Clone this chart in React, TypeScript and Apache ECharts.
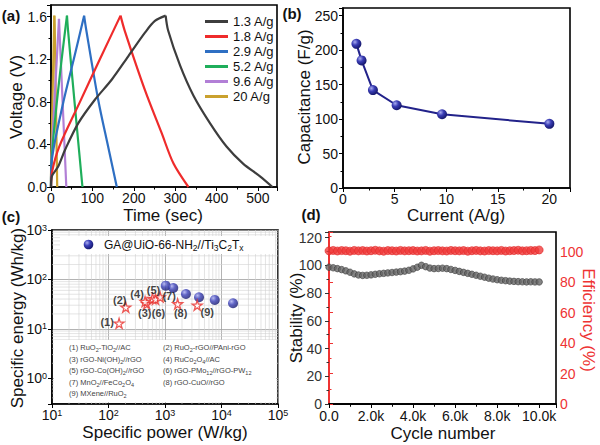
import React, { useEffect, useRef } from "react";
import * as echarts from "echarts";

const FONT = 'Arial, "Liberation Sans", Helvetica, sans-serif';

// ---------- (a) galvanostatic charge/discharge: [time (s), voltage (V)]
const gcdNames = ["1.3 A/g", "1.8 A/g", "2.9 A/g", "5.2 A/g", "9.6 A/g", "20 A/g"];
const gcdColors = ["#3d3d3d", "#ef2b2b", "#2e6fc3", "#1fae5b", "#b27fd6", "#caa12e"];
const gcd_1_3 = [[0, 0], [2, 0.1], [17, 0.19], [34, 0.35], [66, 0.6], [106, 0.82], [147, 1.01], [187, 1.23], [227, 1.45], [251, 1.56], [277, 1.61], [283, 1.47], [312, 1.14], [344, 0.86], [384, 0.6], [424, 0.38], [464, 0.22], [505, 0.1], [535, 0]];
const gcd_1_8 = [[0, 0], [3, 0.15], [20, 0.38], [70, 0.8], [118, 1.2], [168, 1.61], [178, 1.47], [227, 0.91], [267, 0.51], [296, 0.22], [332, 0]];
const gcd_2_9 = [[0, 0], [2, 0.25], [30, 0.8], [55, 1.2], [80, 1.61], [85, 1.48], [114, 0.82], [138, 0.38], [159, 0]];
const gcd_5_2 = [[0, 0], [1, 0.22], [38.6, 1.61], [41, 1.48], [58, 0.75], [76, 0]];
const gcd_9_6 = [[0, 0], [1, 0.25], [19.3, 1.58], [20.5, 1.47], [37, 0]];
const gcd_20 = [[0, 0], [0.5, 0.25], [8, 1.61], [9, 1.5], [15, 0]];
const gcdCurves = [gcd_1_3, gcd_1_8, gcd_2_9, gcd_5_2, gcd_9_6, gcd_20];

// ---------- (b) rate capability
const rateCurrents = [1.3, 1.8, 2.9, 5.2, 9.6, 20];
const rateCapacitance = [209, 185, 142, 120, 107, 93];

// ---------- (c) Ragone plot
const thisWorkPower = [1030, 1400, 2350, 4000, 7600, 16000];
const thisWorkEnergy = [74.6, 67, 50.7, 43.5, 38.4, 32.9];
const refLabels = ["(1)", "(2)", "(3)", "(4)", "(5)", "(6)", "(7)", "(8)", "(9)"];
const refPower = [154, 202, 475, 444, 600, 680, 820, 1675, 3715];
const refEnergy = [12.9, 27.3, 31.9, 35.5, 41, 39.5, 44, 31.9, 30];
const refLabelOffsets = [[-12, -1], [-6, -7], [-2, 9], [-8, -8], [1, -9], [3, 14], [9, -1], [3, 9], [10, 7]];
const refNames = [
  "(1) RuO{s|2}-TiO{s|2}//AC",
  "(2) RuO{s|2}-rGO//PAni-rGO",
  "(3) rGO-Ni(OH){s|2}//rGO",
  "(4) RuCo{s|2}O{s|4}//AC",
  "(5) rGO-Co(OH){s|2}//rGO",
  "(6) rGO-PMo{s|12}//rGO-PW{s|12}",
  "(7) MnO{s|2}//FeCo{s|2}O{s|4}",
  "(8) rGO-CuO//rGO",
  "(9) MXene//RuO{s|2}",
];
const minorPower = [20, 30, 40, 50, 60, 70, 80, 90, 200, 300, 400, 500, 600, 700, 800, 900, 2000, 3000, 4000, 5000, 6000, 7000, 8000, 9000, 20000, 30000, 40000, 50000, 60000, 70000, 80000, 90000];
const minorEnergy = [0.4, 0.5, 0.6, 0.7, 0.8, 0.9, 2, 3, 4, 5, 6, 7, 8, 9, 20, 30, 40, 50, 60, 70, 80, 90, 200, 300, 400, 500, 600, 700, 800, 900];

// ---------- (d) cycling stability
const cycles = [0, 200, 400, 600, 800, 1000, 1200, 1400, 1600, 1800, 2000, 2200, 2400, 2600, 2800, 3000, 3200, 3400, 3600, 3800, 4000, 4200, 4400, 4600, 4800, 5000, 5200, 5400, 5600, 5800, 6000, 6200, 6400, 6600, 6800, 7000, 7200, 7400, 7600, 7800, 8000, 8200, 8400, 8600, 8800, 9000, 9200, 9400, 9600, 9800, 10000];
const stability = [98.6, 98.2, 97.6, 96.9, 96.0, 95.0, 93.8, 93.0, 92.7, 92.8, 93.1, 93.5, 93.9, 94.2, 94.5, 94.8, 95.1, 95.4, 95.8, 96.4, 97.4, 98.6, 100.0, 99.0, 98.0, 97.6, 97.7, 97.9, 97.6, 97.0, 96.3, 95.6, 94.9, 94.2, 93.5, 92.8, 92.1, 91.4, 90.7, 90.1, 89.6, 89.2, 88.9, 88.6, 88.4, 88.2, 88.1, 88.0, 88.1, 88.0, 88.0];
const efficiency = [100.6, 100.9, 100.5, 100.8, 100.7, 100.4, 100.9, 100.6, 100.8, 100.5, 100.7, 101.0, 100.6, 100.4, 100.8, 100.7, 100.5, 100.9, 100.6, 100.7, 100.8, 100.5, 100.6, 100.9, 100.4, 100.7, 100.8, 100.6, 100.5, 100.9, 100.7, 100.6, 100.8, 100.4, 100.7, 100.9, 100.6, 100.5, 100.8, 100.7, 100.6, 100.9, 100.5, 100.7, 100.8, 101.0, 100.6, 100.7, 100.9, 100.8, 101.2];

const STAR = "path://M50,0 L61,35 L98,35 L68,57 L79,91 L50,70 L21,91 L32,57 L2,35 L39,35 Z";

function ball(light: string, mid: string, dark: string) {
  return new echarts.graphic.RadialGradient(0.35, 0.32, 0.7, [
    { offset: 0, color: light },
    { offset: 0.45, color: mid },
    { offset: 1, color: dark },
  ]);
}

const axisLabelBase = { fontSize: 14, lineHeight: 14, color: "#111", fontFamily: FONT, showMaxLabel: false };
const blackLine = { lineStyle: { color: "#000", width: 1.6 } };

export default function App() {
  const ref = useRef<HTMLDivElement>(null);
  useEffect(() => {
    if (!ref.current) return;
    const chart = echarts.init(ref.current, undefined, { renderer: "svg" });

    const gcdSeries: any[] = [];
    gcdCurves.forEach((curve, i) => {
      let pk = 0;
      curve.forEach((p, j) => { if (p[1] > curve[pk][1]) pk = j; });
      const parts = [curve.slice(0, pk + 1), curve.slice(pk)];
      parts.forEach((part) => {
        gcdSeries.push({
          type: "line", name: gcdNames[i], xAxisIndex: 0, yAxisIndex: 0,
          data: part, showSymbol: false, smooth: 0.3,
          color: gcdColors[i],
          lineStyle: { color: gcdColors[i], width: 2.2 },
          itemStyle: { color: gcdColors[i] },
          z: 10 - i,
        });
      });
    });

    const txt = (text: string, x: number, y: number, opts: any = {}) => ({
      type: "text", x, y, rotation: opts.rotation || 0, z: 50,
      style: {
        text, fontSize: opts.fontSize || 17, fontFamily: FONT, fontWeight: opts.fontWeight || "normal",
        fill: opts.fill || "#111", align: opts.align || "center", verticalAlign: "middle",
        rich: opts.rich, lineHeight: opts.lineHeight,
      },
    });

    const listRich = { s: { fontSize: 5.5, lineHeight: 9, verticalAlign: "bottom", fill: "#444", fontFamily: FONT } };
    const listGraphics = refNames.map((t, i) =>
      txt(t, i % 2 === 0 ? 69 : 163, 347.7 + Math.floor(i / 2) * 11.5, { fontSize: 7.5, fill: "#444", align: "left", rich: listRich, lineHeight: 11 })
    );

    const logFmt = (v: number) => {
      const l = Math.log10(v);
      const r = Math.round(l);
      if (Math.abs(l - r) > 1e-6) return "";
      return "10{sup|" + r + "}";
    };
    const supRich = { sup: { fontSize: 9, lineHeight: 8, verticalAlign: "top", color: "#111", fontFamily: FONT } };

    const option: any = {
      animation: false,
      textStyle: { fontFamily: FONT },
      grid: [
        { left: 51, top: 5, width: 226, height: 182, show: true, borderColor: "#000", borderWidth: 1.6, backgroundColor: "transparent" },
        { left: 343, top: 8, width: 227, height: 180, show: true, borderColor: "#000", borderWidth: 1.6, backgroundColor: "transparent" },
        { left: 52, top: 230, width: 226, height: 174, show: true, borderColor: "#000", borderWidth: 1.6, backgroundColor: "transparent" },
        { left: 329, top: 232, width: 227, height: 172, show: true, borderColor: "#000", borderWidth: 1.6, backgroundColor: "transparent" },
      ],
      legend: {
        data: gcdNames, orient: "vertical", left: 205, top: 14, padding: 0, itemGap: 0,
        itemWidth: 23, itemHeight: 3, icon: "rect",
        textStyle: { fontSize: 13, lineHeight: 15, color: "#111", fontFamily: FONT },
      },
      xAxis: [
        { type: "value", gridIndex: 0, min: 0, max: 546, interval: 100, axisLine: blackLine, axisTick: { show: true, length: 4, lineStyle: { color: "#000" } }, minorTick: { show: true, splitNumber: 2, length: 2.5, lineStyle: { color: "#000" } }, axisLabel: { ...axisLabelBase, margin: 4 }, splitLine: { show: false } },
        { type: "value", gridIndex: 1, min: 0, max: 22, interval: 5, axisLine: blackLine, axisTick: { show: true, length: 4, lineStyle: { color: "#000" } }, minorTick: { show: true, splitNumber: 2, length: 2.5, lineStyle: { color: "#000" } }, axisLabel: { ...axisLabelBase, margin: 4 }, splitLine: { show: false } },
        { type: "log", logBase: 10, gridIndex: 2, min: 10, max: 100000, axisLine: blackLine, axisTick: { show: true, length: 4, lineStyle: { color: "#000" } }, axisLabel: { ...axisLabelBase, showMaxLabel: true, margin: 4, lineHeight: 14, formatter: logFmt, rich: supRich }, splitLine: { show: true, lineStyle: { color: "#a0a0a0", width: 0.8 } } },
        { type: "value", gridIndex: 3, min: 0, max: 10800, interval: 2000, axisLine: blackLine, axisTick: { show: true, length: 4, lineStyle: { color: "#000" } }, minorTick: { show: true, splitNumber: 2, length: 2.5, lineStyle: { color: "#000" } }, axisLabel: { ...axisLabelBase, margin: 5, formatter: (v: number) => (v === 0 ? "0.0" : (v / 1000).toFixed(1) + "k") }, splitLine: { show: false } },
        { type: "value", gridIndex: 3, position: "top", min: 0, max: 10800, interval: 2000, axisLine: blackLine, axisTick: { show: true, inside: true, length: 4, lineStyle: { color: "#000" } }, minorTick: { show: true, splitNumber: 2, length: 2.5, lineStyle: { color: "#000" } }, axisLabel: { show: false }, splitLine: { show: false } },
      ],
      yAxis: [
        { type: "value", gridIndex: 0, min: 0, max: 1.71, interval: 0.4, axisLine: blackLine, axisTick: { show: true, length: 4, lineStyle: { color: "#000" } }, minorTick: { show: true, splitNumber: 2, length: 2.5, lineStyle: { color: "#000" } }, axisLabel: { ...axisLabelBase, margin: 4, formatter: (v: number) => v.toFixed(1) }, splitLine: { show: false } },
        { type: "value", gridIndex: 1, min: 0, max: 261, interval: 50, axisLine: blackLine, axisTick: { show: true, length: 4, lineStyle: { color: "#000" } }, minorTick: { show: true, splitNumber: 2, length: 2.5, lineStyle: { color: "#000" } }, axisLabel: { ...axisLabelBase, margin: 5 }, splitLine: { show: false } },
        { type: "log", logBase: 10, gridIndex: 2, min: 0.3, max: 1000, axisLine: blackLine, axisTick: { show: true, length: 4, lineStyle: { color: "#000" } }, axisLabel: { ...axisLabelBase, showMaxLabel: true, margin: 5, lineHeight: 14, formatter: logFmt, rich: supRich }, splitLine: { show: true, lineStyle: { color: "#a0a0a0", width: 0.8 } } },
        { type: "value", gridIndex: 3, min: 0, max: 124, interval: 20, axisLine: { lineStyle: { color: "#333", width: 1.8 } }, axisTick: { show: true, length: 4, lineStyle: { color: "#333" } }, minorTick: { show: true, splitNumber: 2, length: 2.5, lineStyle: { color: "#333" } }, axisLabel: { ...axisLabelBase, lineHeight: 10, color: "#333", margin: 7 }, splitLine: { show: false } },
        { type: "value", gridIndex: 3, position: "right", min: 0, max: 113, interval: 20, axisLine: { show: true, lineStyle: { color: "#ee3333", width: 2 } }, axisTick: { show: true, length: 4, lineStyle: { color: "#ee3333" } }, minorTick: { show: true, splitNumber: 2, length: 2.5, lineStyle: { color: "#ee3333" } }, axisLabel: { ...axisLabelBase, lineHeight: 10, color: "#ee3333", margin: 4 }, splitLine: { show: false } },
      ],
      series: [
        ...gcdSeries,
        {
          type: "line", xAxisIndex: 1, yAxisIndex: 1,
          data: rateCurrents.map((c, i) => [c, rateCapacitance[i]]),
          symbol: "circle", symbolSize: 10,
          lineStyle: { color: "#22228a", width: 2 },
          itemStyle: { color: ball("#a9acef", "#3a3db5", "#15176a") },
          z: 5,
        },
        {
          type: "custom", xAxisIndex: 2, yAxisIndex: 2, z: 1, silent: true,
          data: minorPower.map((v) => [v, 1]),
          renderItem: (params: any, api: any) => {
            const v = api.value(0);
            const p1 = api.coord([v, 1000]);
            const p2 = api.coord([v, 0.3]);
            return { type: "line", shape: { x1: p1[0], y1: p1[1], x2: p2[0], y2: p2[1] }, style: { stroke: "#d2d2d2", lineWidth: 0.6 } };
          },
        },
        {
          type: "custom", xAxisIndex: 2, yAxisIndex: 2, z: 1, silent: true,
          data: minorEnergy.map((v) => [100, v]), encode: { x: 0, y: 1 },
          renderItem: (params: any, api: any) => {
            const v = api.value(1);
            const p1 = api.coord([10, v]);
            const p2 = api.coord([100000, v]);
            return { type: "line", shape: { x1: p1[0], y1: p1[1], x2: p2[0], y2: p2[1] }, style: { stroke: "#d2d2d2", lineWidth: 0.6 } };
          },
        },
        {
          type: "scatter", xAxisIndex: 2, yAxisIndex: 2, z: 20,
          data: thisWorkPower.map((p, i) => [p, thisWorkEnergy[i]]),
          symbol: "circle", symbolSize: 10,
          itemStyle: { color: ball("#a9acef", "#3a3fb8", "#15186e") },
        },
        {
          type: "scatter", xAxisIndex: 2, yAxisIndex: 2, z: 20,
          data: refPower.map((p, i) => ({
            value: [p, refEnergy[i]],
            label: { show: true, position: "inside", offset: refLabelOffsets[i], formatter: refLabels[i], fontSize: 11, fontWeight: "bold", color: "#111", fontFamily: FONT },
          })),
          symbol: STAR, symbolSize: 10,
          itemStyle: { color: "#ffffff", borderColor: "#e8302c", borderWidth: 1.3 },
        },
        {
          type: "scatter", xAxisIndex: 3, yAxisIndex: 3, z: 10,
          data: cycles.map((c, i) => [c, stability[i]]),
          symbol: "circle", symbolSize: 6.5,
          itemStyle: { color: "#666666", borderColor: "#3a3a3a", borderWidth: 0.8 },
        },
        {
          type: "scatter", xAxisIndex: 3, yAxisIndex: 4, z: 10,
          data: cycles.map((c, i) => [c, efficiency[i]]),
          symbol: "circle", symbolSize: 8,
          itemStyle: { color: "#f03a3a", borderColor: "#e02525", borderWidth: 0.8 },
        },
      ],
      graphic: {
        elements: [
          { type: "rect", z: 5, shape: { x: 60, y: 236, width: 215, height: 18 }, style: { fill: "#fff" } },
          { type: "rect", z: 5, shape: { x: 54, y: 340, width: 222, height: 62 }, style: { fill: "#fff" } },
          { type: "circle", z: 30, shape: { cx: 88.5, cy: 244.5, r: 4.8 }, style: { fill: ball("#a9acef", "#3a3fb8", "#15186e") } },
          txt("GA@UiO-66-NH{b|2}//Ti{b|3}C{b|2}T{b|x}", 104, 244.5, { fontSize: 12, align: "left", lineHeight: 16, rich: { b: { fontSize: 8.5, lineHeight: 9, verticalAlign: "bottom", fill: "#111", fontFamily: FONT } } }),
          ...listGraphics,
          txt("(a)", 11, 15, { fontSize: 15, fontWeight: "bold" }),
          txt("(b)", 292, 13, { fontSize: 15, fontWeight: "bold" }),
          txt("(c)", 11, 216, { fontSize: 15, fontWeight: "bold" }),
          txt("(d)", 311, 214, { fontSize: 15, fontWeight: "bold" }),
          txt("Voltage (V)", 16, 97, { rotation: Math.PI / 2 }),
          txt("Time (sec)", 163, 215, { lineHeight: 17 }),
          txt("Capacitance (F/g)", 304, 97, { rotation: Math.PI / 2 }),
          txt("Current (A/g)", 456, 215, { lineHeight: 17 }),
          txt("Specific energy (Wh/kg)", 17, 318, { rotation: Math.PI / 2 }),
          txt("Specific power (W/kg)", 165, 432, { lineHeight: 17 }),
          txt("Stability (%)", 296, 318, { rotation: Math.PI / 2 }),
          txt("Efficiency (%)", 588, 320, { rotation: -Math.PI / 2, fill: "#ee3333" }),
          txt("Cycle number", 443, 433, { lineHeight: 17 }),
        ],
      },
    };

    chart.setOption(option);
    return () => chart.dispose();
  }, []);

  return <div ref={ref} style={{ position: "absolute", left: 0, top: 0, width: 600, height: 445, background: "#fff" }} />;
}
